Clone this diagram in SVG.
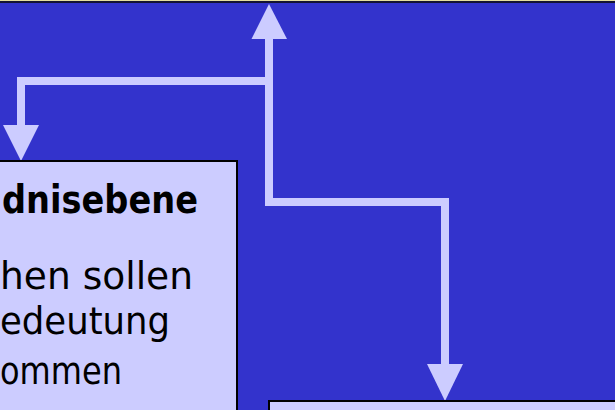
<svg xmlns="http://www.w3.org/2000/svg" width="615" height="410" viewBox="0 0 615 410">
  <style>
    .box { fill: #CCCCFF; stroke: #000000; stroke-width: 2; }
    .conn { fill: none; stroke: #CCCCFF; stroke-width: 8; stroke-linejoin: miter; stroke-linecap: butt; }
    .head { fill: #CCCCFF; }
    .t { font-family: "Comic Sans MS", "DejaVu Sans", sans-serif; fill: #000000; }
    .tb { font-weight: bold; font-size: 39px; }
    .tr { font-size: 37px; }
  </style>
  <rect x="0" y="0" width="615" height="410" fill="#3333CC"/>
  <rect x="0" y="0" width="615" height="1" fill="#E6DFA0"/>
  <rect x="0" y="1" width="615" height="2" fill="#141433"/>
  <g id="connectors">
    <path class="conn" d="M269,39 V202 H445 V365"/>
    <path class="conn" d="M269,81 H21 V126"/>
    <polygon class="head" points="269,4 251.5,39 287,39"/>
    <polygon class="head" points="21,161 3,125 39,125"/>
    <polygon class="head" points="445,401 427,364 463,364"/>
  </g>
  <g id="node-left">
    <rect class="box" x="-10" y="161" width="247" height="260"/>
    <text class="t tb" x="198" y="213" text-anchor="end" textLength="196" lengthAdjust="spacingAndGlyphs">dnisebene</text>
    <text class="t tr" x="193" y="289" text-anchor="end" textLength="193" lengthAdjust="spacingAndGlyphs">hen sollen</text>
    <text class="t tr" x="170" y="334" text-anchor="end" textLength="170" lengthAdjust="spacingAndGlyphs">edeutung</text>
    <text class="t tr" x="122" y="384" text-anchor="end" textLength="122" lengthAdjust="spacingAndGlyphs">ommen</text>
  </g>
  <g id="node-right">
    <rect class="box" x="269" y="401" width="360" height="30"/>
  </g>
</svg>
